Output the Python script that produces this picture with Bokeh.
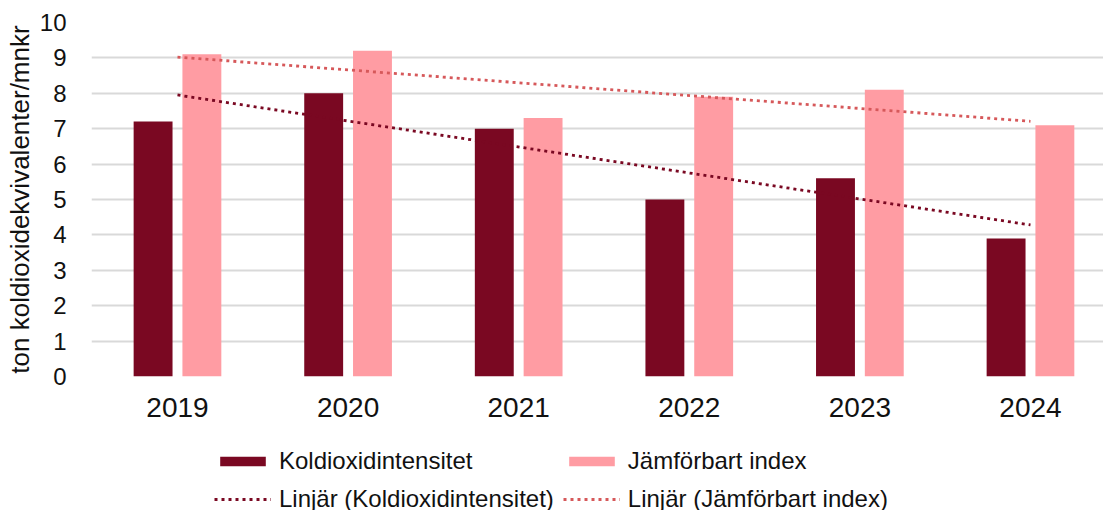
import numpy as np
from bokeh.plotting import figure
from bokeh.layouts import column
from bokeh.models import (ColumnDataSource, Range1d, FixedTicker, Legend, LegendItem)
from bokeh.transform import dodge
from bokeh.embed import file_html
from bokeh.resources import INLINE

years = ["2019", "2020", "2021", "2022", "2023", "2024"]
koldioxid = [7.2, 8.0, 7.0, 5.0, 5.6, 3.9]
jamforbart = [9.1, 9.2, 7.3, 7.9, 8.1, 7.1]
y_ticks = [0, 1, 2, 3, 4, 5, 6, 7, 8, 9, 10]
labels = ["Koldioxidintensitet", "Jämförbart index",
          "Linjär (Koldioxidintensitet)", "Linjär (Jämförbart index)"]

DARK = "#7A0822"
LIGHT = "#FF9CA3"
TREND_LIGHT = "#D6585A"
FONT = "Liberation Sans"
TXT = "#111111"
W = 1103

idx = np.arange(len(years), dtype=float)
src = ColumnDataSource(dict(x=idx, k=koldioxid, j=jamforbart))

# linear trendlines (least squares, like Excel)
xf = idx + 1
sk = np.polyfit(xf, koldioxid, 1)
sj = np.polyfit(xf, jamforbart, 1)
tsrc = ColumnDataSource(dict(x=[idx[0], idx[-1]],
                             k=[np.polyval(sk, xf[0]), np.polyval(sk, xf[-1])],
                             j=[np.polyval(sj, xf[0]), np.polyval(sj, xf[-1])]))

p = figure(width=W, height=426, output_backend="svg", toolbar_location=None,
           x_range=Range1d(-0.504, 5.428), y_range=Range1d(0, 10),
           min_border_left=91, min_border_right=0, min_border_top=22,
           min_border_bottom=50)
p.outline_line_color = None
p.background_fill_color = "white"
p.border_fill_color = "white"

bw = 0.228
off = 0.143
TREND_W = 2.8
TREND_DASH = "3 4"


def draw(fig):
    rk = fig.vbar(x=dodge("x", -off), top="k", width=bw, source=src, fill_color=DARK, line_color=None)
    rj = fig.vbar(x=dodge("x", off), top="j", width=bw, source=src, fill_color=LIGHT, line_color=None)
    rtk = fig.line(x="x", y="k", source=tsrc, line_color=DARK, line_width=TREND_W, line_dash=TREND_DASH)
    rtj = fig.line(x="x", y="j", source=tsrc, line_color=TREND_LIGHT, line_width=TREND_W, line_dash=TREND_DASH)
    return [rk, rj, rtk, rtj]


draw(p)

# axes
p.xaxis.ticker = FixedTicker(ticks=list(idx))
p.xaxis.major_label_overrides = {int(i): y for i, y in zip(idx, years)}
p.xaxis.axis_line_color = None
p.xaxis.major_tick_line_color = None
p.xaxis.minor_tick_line_color = None
p.xaxis.major_label_text_font = FONT
p.xaxis.major_label_text_font_size = "28px"
p.xaxis.major_label_text_color = TXT
p.xaxis.major_label_standoff = 15

p.yaxis.ticker = FixedTicker(ticks=y_ticks)
p.yaxis.axis_line_color = None
p.yaxis.major_tick_line_color = None
p.yaxis.minor_tick_line_color = None
p.yaxis.major_label_text_font = FONT
p.yaxis.major_label_text_font_size = "24px"
p.yaxis.major_label_text_color = TXT
p.yaxis.major_label_standoff = 19
p.yaxis.axis_label = "ton koldioxidekvivalenter/mnkr"
p.yaxis.axis_label_text_font = FONT
p.yaxis.axis_label_text_font_size = "26px"
p.yaxis.axis_label_text_font_style = "normal"
p.yaxis.axis_label_text_color = TXT
p.yaxis.axis_label_standoff = 2

p.xgrid.grid_line_color = None
p.ygrid.ticker = FixedTicker(ticks=y_ticks)
p.ygrid.grid_line_color = "#D9D9D9"
p.ygrid.grid_line_width = 2

# legend figure: same renderers drawn out of its visible range, only the legend shows
q = figure(width=W, height=84, output_backend="svg", toolbar_location=None,
           x_range=Range1d(-30, -29), y_range=Range1d(-30, -29),
           x_axis_location=None, y_axis_location=None,
           min_border_left=0, min_border_right=0, min_border_top=0, min_border_bottom=0)
q.outline_line_color = None
q.xgrid.grid_line_color = None
q.ygrid.grid_line_color = None
q.background_fill_color = "white"
q.border_fill_color = "white"
rends = draw(q)

legend = Legend(items=[LegendItem(label=l, renderers=[r]) for l, r in zip(labels, rends)],
                orientation="horizontal", ncols=2, location=(123, -3))
legend.glyph_width = 57
legend.glyph_height = 12
legend.label_height = 29
legend.spacing = 9
legend.padding = 0
legend.margin = 0
legend.label_standoff = 8
legend.label_text_font = FONT
legend.label_text_font_size = "24px"
legend.label_text_color = TXT
legend.border_line_color = None
legend.background_fill_alpha = 0
q.add_layout(legend, "center")

layout = column(p, q, spacing=0)
open("out.html", "w").write(file_html(layout, INLINE))
